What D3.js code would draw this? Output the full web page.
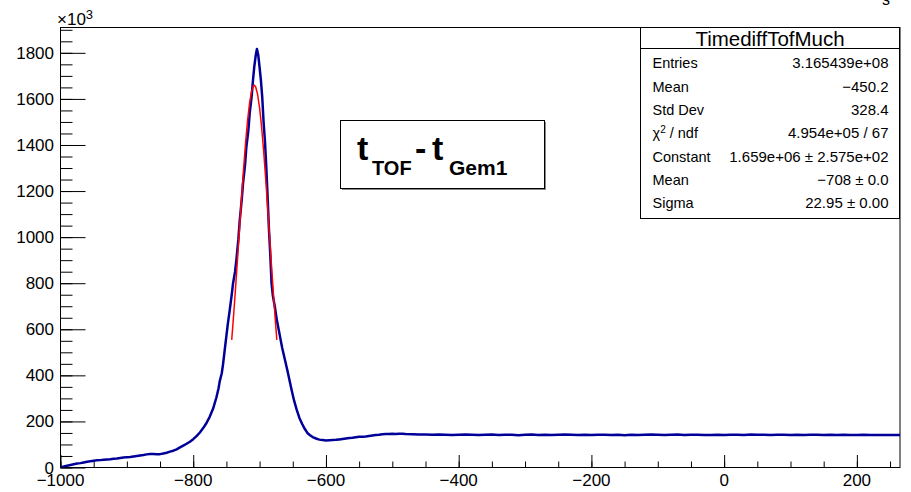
<!DOCTYPE html>
<html><head><meta charset="utf-8">
<script src="https://cdn.jsdelivr.net/npm/d3@7"></script>
<style>
body{margin:0;background:#fff}
svg{display:block}
text{font-family:"Liberation Sans",Arial,Helvetica,sans-serif;fill:#000}
</style>
</head><body>
<svg id="chart" width="911" height="492"></svg>
<script>
// ---------- data (counts in units of 10^3) ----------
const histX = [-1000,-995,-990,-985,-980,-975,-970,-965,-960,-955,-950,-945,-940,-935,-930,-925,-920,-915,-910,-905,-900,-895,-890,-885,-880,-875,-870,-865,-860,-855,-850,-845,-840,-835,-830,-825,-820,-815,-810,-805,-800,-795,-790,-785,-780,-775,-770,-765,-762,-760,-757,-755,-752,-748,-745,-742,-740,-737,-735,-732,-730,-727,-725,-722,-720,-717,-715,-712,-710,-708,-706,-704,-702,-700,-698,-696,-694,-692,-690,-688,-686,-684,-682,-680,-677,-674,-670,-666,-662,-658,-655,-652,-648,-644,-640,-636,-632,-628,-624,-620,-615,-610,-605,-600,-595,-590,-585,-580,-575,-570,-565,-560,-555,-550,-545,-540,-535,-530,-525,-520,-515,-510,-505,-500,-495,-490,-485,-480,-470,-460,-450,-440,-430,-420,-410,-400,-390,-380,-370,-360,-350,-340,-330,-320,-310,-300,-290,-280,-270,-260,-250,-240,-230,-220,-210,-200,-190,-180,-170,-160,-150,-140,-130,-120,-110,-100,-90,-80,-70,-60,-50,-40,-30,-20,-10,0,10,20,30,40,50,60,70,80,90,100,110,120,130,140,150,160,170,180,190,200,210,220,230,240,250,260,265];
const histY = [1,4,8,11,14,17,19,22,25,27,29,31,32,34,35,36,38,39,41,43,45,46,48,50,52,54,57,59,59,58,58,61,64,69,73,79,87,95,103,112,123,136,152,171,193,221,256,305,342,375,409,450,524,620,683,750,799,850,900,990,1070,1160,1232,1310,1390,1460,1535,1610,1680,1740,1785,1817,1790,1737,1680,1607,1500,1420,1310,1180,1040,930,800,745,698,640,580,520,470,420,380,340,290,250,215,190,168,150,140,132,126,121,119,117,118,119,120,122,124,126,128,129,131,133,134,135,137,139,141,142,144,145,145,146,145,146,146,145,144,143,143,142,143,142,141,142,143,142,141,142,143,141,142,142,140,142,143,141,142,141,142,143,142,141,142,141,142,142,141,142,140,142,141,142,143,142,141,142,143,141,142,142,141,141,142,141,142,142,141,143,142,142,141,142,142,141,142,141,142,142,141,142,141,142,141,141,142,141,141,141,141,141,141];

const fitX = [-742,-739,-736,-733,-730,-727,-724,-721,-718,-715,-712,-709,-708,-706,-703,-700,-697,-694,-691,-688,-685,-682,-679,-676,-674];
const fitY = [554,666,788,917,1048,1178,1301,1413,1509,1584,1634,1657,1659,1653,1620,1561,1479,1377,1261,1135,1004,873,747,628,554];

const xMajorTicks = [-1000,-800,-600,-400,-200,0,200];
const xMinorTicks = d3.range(-1000, 266, 50);
const yMajorTicks = [0,200,400,600,800,1000,1200,1400,1600,1800];
const yMinorTicks = d3.range(0, 1901, 50);

const statsTitle = "TimediffTofMuch";
const statsNames = ["Entries","Mean","Std Dev","χ2 / ndf","Constant","Mean","Sigma"];
const statsValues = ["3.165439e+08","\u2212450.2","328.4","4.954e+05 / 67","1.659e+06 ± 2.575e+02","\u2212708 ± 0.0","22.95 ± 0.00"];

// ---------- layout ----------
const svg = d3.select("#chart");
const L = 60.5, R = 900, T = 27.5, B = 467.5;
const x = d3.scaleLinear().domain([-1000, 265]).range([L, R]);
const y = d3.scaleLinear().domain([0, 1910]).range([B, T]);
const fmt = d => d < 0 ? "\u2212" + Math.abs(d) : String(d);

// ---------- axes (ticks inward) ----------
function styleAxis(g) {
  g.select(".domain").remove();
  g.selectAll("line").attr("stroke", "#000").attr("stroke-width", 1);
}
svg.append("g").attr("transform", `translate(0,${B})`)
  .call(d3.axisBottom(x).tickValues(xMinorTicks).tickSize(-6).tickFormat("")).call(styleAxis);
svg.append("g").attr("transform", `translate(0,${B})`)
  .call(d3.axisBottom(x).tickValues(xMajorTicks).tickSize(-12.5).tickFormat("")).call(styleAxis);
svg.append("g").attr("transform", `translate(${L},0)`)
  .call(d3.axisLeft(y).tickValues(yMinorTicks).tickSize(-12).tickFormat("")).call(styleAxis);
svg.append("g").attr("transform", `translate(${L},0)`)
  .call(d3.axisLeft(y).tickValues(yMajorTicks).tickSize(-25).tickFormat("")).call(styleAxis);

svg.append("g").selectAll("text").data(xMajorTicks).join("text")
  .attr("x", d => x(d)).attr("y", 486).attr("text-anchor", "middle")
  .attr("font-size", 17).text(fmt);
svg.append("g").selectAll("text").data(yMajorTicks).join("text")
  .attr("x", 54).attr("y", d => y(d) + 6).attr("text-anchor", "end")
  .attr("font-size", 17).text(fmt);

const expo = svg.append("text").attr("x", 57).attr("y", 25).attr("font-size", 17);
expo.append("tspan").text("×10");
expo.append("tspan").attr("font-size", 13).attr("dy", -6).text("3");

// ---------- frame ----------
svg.append("rect").attr("x", L).attr("y", T).attr("width", R - L).attr("height", B - T)
  .attr("fill", "none").attr("stroke", "#000").attr("stroke-width", 1);

// ---------- curves ----------
svg.append("defs").append("clipPath").attr("id", "clip")
  .append("rect").attr("x", L).attr("y", T).attr("width", R - L).attr("height", B - T);
const line = d3.line().x(d => x(d[0])).y(d => y(d[1]));
svg.append("path").attr("clip-path", "url(#clip)")
  .attr("d", line(histX.map((v, i) => [v, histY[i]])))
  .attr("fill", "none").attr("stroke", "#000099").attr("stroke-width", 2.5)
  .attr("stroke-linejoin", "round");
svg.append("path").attr("clip-path", "url(#clip)")
  .attr("d", line(fitX.map((v, i) => [v, fitY[i]])))
  .attr("fill", "none").attr("stroke", "#ff0000").attr("stroke-width", 1.5);

// ---------- stats box ----------
const sb = {x: 640.5, y: 27.5, w: 259, h: 191};
svg.append("rect").attr("x", sb.x).attr("y", sb.y).attr("width", sb.w).attr("height", sb.h)
  .attr("fill", "#fff").attr("stroke", "#000").attr("stroke-width", 1);
svg.append("line").attr("x1", sb.x).attr("x2", sb.x + sb.w).attr("y1", 48.5).attr("y2", 48.5)
  .attr("stroke", "#000").attr("stroke-width", 1);
svg.append("text").attr("x", sb.x + sb.w / 2).attr("y", 45.5).attr("text-anchor", "middle")
  .attr("font-size", 20.5).text(statsTitle);
statsNames.forEach((n, i) => {
  const yy = 68.3 + i * 23.3;
  const t = svg.append("text").attr("x", 652.5).attr("y", yy).attr("font-size", 14.5);
  if (n.startsWith("χ2")) {
    t.append("tspan").text("χ");
    t.append("tspan").attr("font-size", 10).attr("dy", -5).text("2");
    t.append("tspan").attr("dy", 5).text(" / ndf");
  } else t.text(n);
  svg.append("text").attr("x", 888.5).attr("y", yy).attr("text-anchor", "end")
    .attr("font-size", 15).text(statsValues[i]);
});

// ---------- label box ----------
svg.append("rect").attr("x", 342).attr("y", 122).attr("width", 204).attr("height", 68).attr("fill", "#888");
svg.append("rect").attr("x", 340.5).attr("y", 120.5).attr("width", 204).attr("height", 68)
  .attr("fill", "#fff").attr("stroke", "#000").attr("stroke-width", 1);
const lab = svg.append("g").attr("font-weight", "bold");
lab.append("text").attr("x", 357).attr("y", 160).attr("font-size", 34).attr("font-weight", "bold").text("t");
lab.append("text").attr("x", 372).attr("y", 175).attr("font-size", 20).attr("font-weight", "bold").text("TOF");
lab.append("text").attr("x", 415).attr("y", 160).attr("font-size", 34).attr("font-weight", "bold").text("-");
lab.append("text").attr("x", 432).attr("y", 160).attr("font-size", 34).attr("font-weight", "bold").text("t");
lab.append("text").attr("x", 449).attr("y", 175).attr("font-size", 21).attr("font-weight", "bold").text("Gem1");

// partially visible title glyph at the top right
svg.append("text").attr("x", 882).attr("y", 5).attr("font-size", 16).text("s");
</script>
</body></html>
